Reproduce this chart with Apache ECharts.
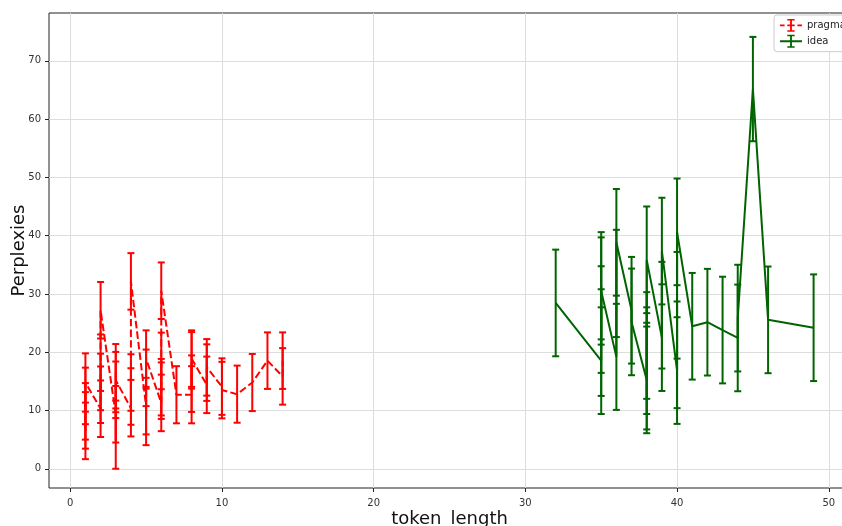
<!DOCTYPE html>
<html><head><meta charset="utf-8">
<script src="https://cdn.jsdelivr.net/npm/echarts@6/dist/echarts.min.js"></script>
<style>html,body{margin:0;padding:0;background:#fff}#c{width:842px;height:526px}</style>
</head><body><div id="c"></div>
<script>
// tick values
const xTicks = [0, 10, 20, 30, 40, 50];
const yTicks = [0, 10, 20, 30, 40, 50, 60, 70];

// series "pragma": x, mean, error
const pragmaX = [1,1,1,1,1, 2,2,2,2,2, 3,3,3,3,3, 4,4,4,4, 5,5,5,5, 6,6,6,6,6, 7, 8,8,8,8, 9,9,9, 10,10, 11, 12, 13, 14,14];
const pragmaY = [6.5,8.3,9.85,12.5,14.8, 10.3,12.7,14.9,18.2,27.2, 9.35,4.85,13.55,16.55,15.2, 10.4,12.4,14.8,32.15, 10.75,8.9,15.6,18.9, 11.3,14.0,13.4,18.5,30.55, 12.7, 12.7,14.6,18.9,18.6, 14.4,16.5,17.4, 14.1,13.5, 12.8, 14.8, 18.55, 15.85,18.55];
const pragmaErr = [4.85,4.85,4.85,4.85,5.0, 4.85,4.85,4.85,4.85,4.85, 4.85,4.85,4.85,4.85,4.85, 4.85,4.85,4.85,4.85, 4.85,4.85,4.85,4.85, 4.85,4.85,4.85,4.85,4.85, 4.9, 4.9,4.85,4.85,4.85, 4.85,4.85,4.85, 4.85,4.85, 4.9, 4.9, 4.85, 4.85,4.85];

// series "idea": x, mean, error
const ideaX = [32, 35,35,35,35,35, 36,36,36, 37,37, 38,38,38,38,38, 39,39,39, 40,40,40,40, 41, 42, 43, 44,44, 45, 46, 49];
const ideaY = [28.45, 18.55,21.65,25.6,31.4,30.5, 19.2,31.8,38.85, 27.2,25.2, 15.25,15.9,18.55,21.15,35.85, 22.5,26.35,37.35, 16.85,19.55,28.05,40.65, 24.45, 25.15, 23.8, 22.45,25.85, 65.15, 25.55, 24.2];
const ideaErr = [9.15, 9.15,9.15,9.15,9.2,9.2, 9.1,9.2,9.15, 9.15,9.15, 9.15,9.15,9.15,9.15,9.15, 9.15,9.15,9.15, 9.15,9.15,9.15,9.15, 9.15, 9.15, 9.15, 9.15,9.15, 8.95, 9.15, 9.15];

const RED = '#ff0000', GREEN = '#006400';

function lineData(xs, ys) { return xs.map((x, i) => [x, ys[i]]); }
function errData(xs, ys, es) { return xs.map((x, i) => [x, ys[i] - es[i], ys[i] + es[i]]); }
function renderErr(color) {
  return function (params, api) {
    const x = api.value(0);
    const lo = api.coord([x, api.value(1)]);
    const hi = api.coord([x, api.value(2)]);
    const cw = 3.5;
    const style = { stroke: color, lineWidth: 2 };
    return { type: 'group', children: [
      { type: 'line', shape: { x1: lo[0], y1: lo[1], x2: hi[0], y2: hi[1] }, style },
      { type: 'line', shape: { x1: lo[0] - cw, y1: lo[1], x2: lo[0] + cw, y2: lo[1] }, style },
      { type: 'line', shape: { x1: hi[0] - cw, y1: hi[1], x2: hi[0] + cw, y2: hi[1] }, style }
    ]};
  };
}

const iconDashed = 'path://M0 6h5v2H0z M8 6h3v2H8z M13 6h3v2h-3z M19 6h5v2h-5z M11 0h2v14h-2z M8 0h8v1.6H8z M8 12.4h8V14H8z';
const iconSolid = 'path://M0 6h24v2H0z M11 0h2v14h-2z M8 0h8v1.6H8z M8 12.4h8V14H8z';

const chart = echarts.init(document.getElementById('c'), null, { renderer: 'canvas' });
const axisText = { color: '#333', fontFamily: 'DejaVu Sans', fontSize: 10 };
chart.setOption({
  animation: false,
  backgroundColor: '#fff',
  grid: { left: 49, right: -8, top: 13, bottom: 38, containLabel: false, outerBoundsMode: 'none',
          show: true, borderColor: '#222', borderWidth: 1 },
  legend: {
    orient: 'vertical', left: 774, top: 15, padding: [4, 6], itemGap: 3,
    itemWidth: 22, itemHeight: 13,
    backgroundColor: '#fff', borderColor: '#ccc', borderWidth: 1, borderRadius: 3,
    textStyle: { color: '#222', fontFamily: 'DejaVu Sans', fontSize: 10 },
    itemStyle: { borderWidth: 0 },
    data: [{ name: 'pragma', icon: iconDashed }, { name: 'idea', icon: iconSolid }]
  },
  xAxis: {
    type: 'value', min: -1.4, max: 51.4,
    name: 'token_length', nameLocation: 'middle', nameGap: 22, nameMoveOverlap: false,
    nameTextStyle: { color: '#111', fontFamily: 'DejaVu Sans', fontSize: 18, verticalAlign: 'top' },
    axisLine: { show: false, onZero: false },
    axisTick: { show: true, length: 4, lineStyle: { color: '#222' }, customValues: xTicks },
    axisLabel: Object.assign({ margin: 10, customValues: xTicks }, axisText),
    splitLine: { show: true, lineStyle: { color: '#dddddd', width: 1 } }
  },
  yAxis: {
    type: 'value', min: -3.3, max: 78.2,
    name: 'Perplexies', nameLocation: 'middle', nameGap: 21, nameRotate: 90, nameMoveOverlap: false,
    nameTextStyle: { color: '#111', fontFamily: 'DejaVu Sans', fontSize: 18 },
    axisLine: { show: false, onZero: false },
    axisTick: { show: true, length: 4, lineStyle: { color: '#222' }, customValues: yTicks },
    axisLabel: Object.assign({ margin: 8, customValues: yTicks }, axisText),
    splitLine: { show: true, lineStyle: { color: '#dddddd', width: 1 } }
  },
  series: [
    { name: 'pragma', type: 'line', data: lineData(pragmaX, pragmaY), symbol: 'none', z: 4,
      color: RED, itemStyle: { color: RED },
      lineStyle: { color: RED, width: 2, type: [7.4, 3.2] } },
    { name: 'pragma', type: 'custom', data: errData(pragmaX, pragmaY, pragmaErr), z: 3,
      encode: { x: 0, y: [1, 2] }, renderItem: renderErr(RED), itemStyle: { color: RED } },
    { name: 'idea', type: 'line', data: lineData(ideaX, ideaY), symbol: 'none', z: 4,
      color: GREEN, itemStyle: { color: GREEN },
      lineStyle: { color: GREEN, width: 2 } },
    { name: 'idea', type: 'custom', data: errData(ideaX, ideaY, ideaErr), z: 3,
      encode: { x: 0, y: [1, 2] }, renderItem: renderErr(GREEN), itemStyle: { color: GREEN } }
  ]
});
</script>
</body></html>
